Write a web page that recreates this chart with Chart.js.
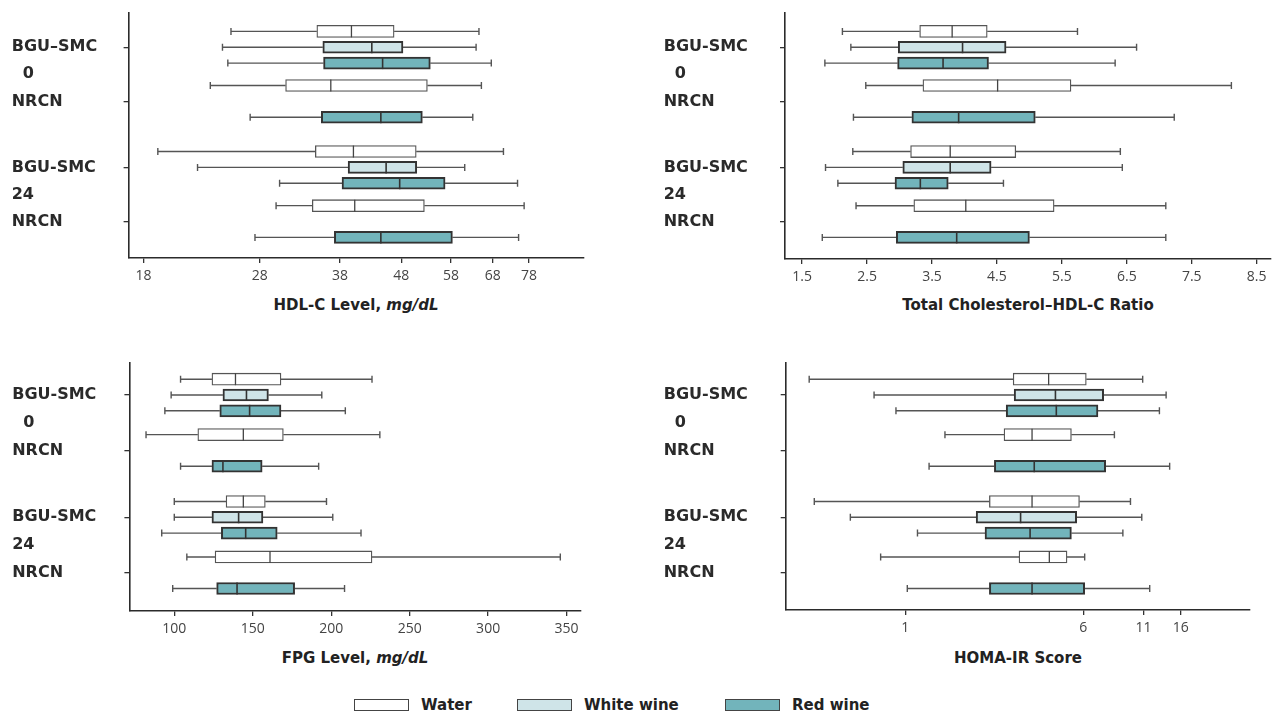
<!DOCTYPE html>
<html lang="en">
<head>
<meta charset="utf-8">
<title>Box plots</title>
<script src="https://cdn.jsdelivr.net/npm/chart.js@4.4.1/dist/chart.umd.min.js"></script>
<style>
  body { margin: 0; background: #fff; }
  #pagina { position: relative; width: 1280px; height: 717px; overflow: hidden; background: #fff; }
  canvas { position: absolute; }
  .titulo {
    position: absolute;
    transform: translateX(-50%);
    white-space: nowrap;
    font: bold 15px 'DejaVu Sans', sans-serif;
    line-height: 20px;
    color: #222;
  }
  .item-legenda {
    position: absolute;
    top: 698px;
    height: 14px;
    display: flex;
    align-items: center;
    font: bold 15px 'DejaVu Sans', sans-serif;
    color: #222;
    white-space: nowrap;
  }
  .caixa {
    width: 55px;
    height: 12px;
    box-sizing: border-box;
    border: 1.5px solid #444;
    margin-right: 12px;
  }
</style>
</head>
<body>
<div id="pagina">
  <canvas id="grafico-hdl" width="640" height="290" style="left:0;top:0"></canvas>
  <canvas id="grafico-razao" width="640" height="290" style="left:640px;top:0"></canvas>
  <canvas id="grafico-glicose" width="640" height="290" style="left:0;top:350px"></canvas>
  <canvas id="grafico-homa" width="640" height="290" style="left:640px;top:350px"></canvas>

  <div class="titulo" style="left:356px;top:295px">HDL-C Level, <i>mg/dL</i></div>
  <div class="titulo" style="left:1028px;top:295px">Total Cholesterol–HDL-C Ratio</div>
  <div class="titulo" style="left:355px;top:648px">FPG Level, <i>mg/dL</i></div>
  <div class="titulo" style="left:1018px;top:648px">HOMA-IR Score</div>

  <div class="item-legenda" style="left:354px"><span class="caixa" style="background:#ffffff"></span>Water</div>
  <div class="item-legenda" style="left:517px"><span class="caixa" style="background:#cfe4e8"></span>White wine</div>
  <div class="item-legenda" style="left:725px"><span class="caixa" style="background:#72b4bb"></span>Red wine</div>
</div>

<script>
// grupos: BGU-SMC 0, NRCN 0, BGU-SMC 24, NRCN 24
const tempos = ['0', '24'];
const rotulosHdl = ['BGU–SMC', 'NRCN', 'BGU-SMC', 'NRCN'];
const rotulosPadrao = ['BGU-SMC', 'NRCN', 'BGU-SMC', 'NRCN'];
const tratamentos = ['Water', 'White wine', 'Red wine'];

// cada caixa: [min, Q1, mediana, Q3, max]; null = grupo sem esse tratamento
const hdlAgua = [[25.1, 34.8, 39.7, 46.7, 64.5], [23.2, 30.9, 36.7, 53.0, 65.1], [19.0, 34.6, 40.0, 50.8, 70.8], [29.8, 34.2, 40.2, 52.4, 76.6]];
const hdlBranco = [[24.3, 35.6, 42.9, 48.3, 63.8], null, [22.1, 39.2, 45.3, 50.9, 61.1], null];
const hdlTinto = [[24.8, 35.7, 44.7, 53.6, 67.6], [27.0, 35.4, 44.4, 52.0, 63.0], [30.2, 38.3, 47.7, 56.7, 74.7], [27.5, 37.2, 44.4, 58.3, 75.0]];

const razaoAgua = [[2.12, 3.31, 3.81, 4.35, 5.74], [2.48, 3.36, 4.51, 5.64, 8.11], [2.28, 3.17, 3.78, 4.79, 6.4], [2.33, 3.22, 4.02, 5.38, 7.1]];
const razaoBranco = [[2.25, 2.98, 3.97, 4.64, 6.65], null, [1.86, 3.05, 3.78, 4.41, 6.43], null];
const razaoTinto = [[1.85, 2.97, 3.67, 4.37, 6.32], [2.29, 3.19, 3.91, 5.09, 7.23], [2.05, 2.93, 3.32, 3.75, 4.6], [1.81, 2.95, 3.88, 5.0, 7.1]];

const glicoseAgua = [[104, 124, 139, 168, 226], [82, 115, 144, 169.5, 231], [100, 133, 144, 158, 197], [108, 126, 161, 226, 346]];
const glicoseBranco = [[98, 131, 146, 160, 194], null, [100, 124, 141, 156.5, 201], null];
const glicoseTinto = [[94, 129, 148, 168, 209], [104, 124, 131, 156, 192], [92, 130, 145.5, 165.6, 219], [99, 127, 140, 176.7, 208.5]];

const homaAgua = [[0.38, 2.96, 4.23, 6.18, 10.9], [1.49, 2.7, 3.58, 5.32, 8.2], [0.4, 2.33, 3.58, 5.77, 9.64], [0.78, 3.14, 4.26, 5.09, 6.08]];
const homaBranco = [[0.73, 2.99, 4.53, 7.36, 13.8], null, [0.575, 2.04, 3.19, 5.61, 10.8], null];
const homaTinto = [[0.91, 2.76, 4.57, 6.95, 12.9], [1.27, 2.45, 3.66, 7.51, 14.3], [1.13, 2.23, 3.51, 5.32, 8.93], [1.02, 2.33, 3.58, 6.08, 11.7]];

const ticksHdl = [18, 28, 38, 48, 58, 68, 78];
const ticksRazao = [1.5, 2.5, 3.5, 4.5, 5.5, 6.5, 7.5, 8.5];
const ticksGlicose = [100, 150, 200, 250, 300, 350];
const ticksHoma = [1, 6, 11, 16];

const coresPreenchimento = ['#ffffff', '#cfe4e8', '#72b4bb'];
const coresBorda = ['#555555', '#333333', '#333333'];
const espessurasBorda = [1.3, 2, 2];

const pluginCaixas = {
  id: 'caixas',
  beforeDatasetsDraw(chart) {
    const { ctx, scales: { x, y } } = chart;
    ctx.save();
    ctx.strokeStyle = '#555';
    ctx.lineWidth = 1.4;
    chart.data.datasets.forEach((ds) => {
      ds.caixas.forEach((caixa, i) => {
        const py = y.getPixelForValue(ds.data[i].y);
        const [xMin, xQ1, , xQ3, xMax] = caixa.map((v) => x.getPixelForValue(v));
        ctx.beginPath();
        ctx.moveTo(xMin, py);
        ctx.lineTo(xQ1, py);
        ctx.moveTo(xQ3, py);
        ctx.lineTo(xMax, py);
        ctx.moveTo(xMin, py - 3.5);
        ctx.lineTo(xMin, py + 3.5);
        ctx.moveTo(xMax, py - 3.5);
        ctx.lineTo(xMax, py + 3.5);
        ctx.stroke();
      });
    });
    ctx.restore();
  },
  afterDatasetsDraw(chart) {
    const { ctx, scales: { x, y } } = chart;
    ctx.save();
    chart.data.datasets.forEach((ds, k) => {
      ctx.strokeStyle = k === 0 ? '#444' : '#333';
      ctx.lineWidth = k === 0 ? 1.3 : 1.6;
      ds.caixas.forEach((caixa, i) => {
        const py = y.getPixelForValue(ds.data[i].y);
        const xMed = x.getPixelForValue(caixa[2]);
        ctx.beginPath();
        ctx.moveTo(xMed, py - 6);
        ctx.lineTo(xMed, py + 6);
        ctx.stroke();
      });
    });
    ctx.restore();
  },
};

function montarTicksY(rotulos, posicoes) {
  return [
    { value: posicoes[0], rotulo: rotulos[0], marca: true },
    { value: (posicoes[0] + posicoes[1]) / 2, rotulo: '  ' + tempos[0], marca: false },
    { value: posicoes[1], rotulo: rotulos[1], marca: true },
    { value: posicoes[2], rotulo: rotulos[2], marca: true },
    { value: (posicoes[2] + posicoes[3]) / 2, rotulo: tempos[1], marca: false },
    { value: posicoes[3], rotulo: rotulos[3], marca: true },
  ];
}

function criarPainel(cfg) {
  const posicoes = [0, 1, cfg.salto, cfg.salto + 1];
  const deslocamentos = [-cfg.faixa, 0, cfg.faixa];

  const datasets = tratamentos.map((nome, k) => ({
    label: nome,
    data: cfg.series[k]
      .map((caixa, i) => caixa && { x: [caixa[1], caixa[3]], y: posicoes[i] + deslocamentos[k] })
      .filter(Boolean),
    caixas: cfg.series[k].filter(Boolean),
    backgroundColor: coresPreenchimento[k],
    borderColor: coresBorda[k],
    borderWidth: espessurasBorda[k],
    borderSkipped: false,
    barThickness: 12,
    grouped: false,
  }));

  return new Chart(document.querySelector(cfg.id), {
    type: 'bar',
    data: { datasets },
    plugins: [pluginCaixas],
    options: {
      indexAxis: 'y',
      responsive: false,
      animation: false,
      events: [],
      layout: {
        autoPadding: false,
        padding: cfg.padding,
      },
      plugins: {
        legend: { display: false },
        tooltip: { enabled: false },
      },
      scales: {
        x: {
          type: cfg.tipo,
          min: cfg.min,
          max: cfg.max,
          offset: false,
          afterBuildTicks: (scale) => {
            scale.ticks = cfg.ticks.map((v) => ({ value: v }));
          },
          afterFit: (scale) => {
            scale.height = cfg.alturaEixoX;
          },
          ticks: {
            autoSkip: false,
            maxRotation: 0,
            padding: 5,
            color: '#444',
            font: { family: 'Open Sans', size: 14 },
            callback: (value) => String(value),
          },
          grid: {
            offset: false,
            drawOnChartArea: false,
            tickLength: 5,
            color: '#333',
            lineWidth: 1.3,
          },
          border: { color: '#2b2b2b', width: 1.6 },
        },
        y: {
          type: 'linear',
          reverse: true,
          offset: false,
          min: cfg.minY,
          max: cfg.maxY,
          afterBuildTicks: (scale) => {
            scale.ticks = montarTicksY(cfg.rotulos, posicoes);
          },
          afterFit: (scale) => {
            scale.width = cfg.larguraEixoY;
          },
          ticks: {
            autoSkip: false,
            crossAlign: 'far',
            color: '#2a2a2a',
            font: { family: 'DejaVu Sans', size: 16, weight: 'bold' },
            callback: (value, index, ticks) => ticks[index].rotulo,
          },
          grid: {
            offset: false,
            drawOnChartArea: false,
            tickLength: 5,
            lineWidth: 1.3,
            color: (c) => (c.tick && c.tick.marca ? '#333' : 'rgba(0,0,0,0)'),
          },
          border: { color: '#2b2b2b', width: 1.6 },
        },
      },
    },
  });
}

criarPainel({
  id: '#grafico-hdl',
  tipo: 'logarithmic',
  min: 17,
  max: 96.2,
  ticks: ticksHdl,
  rotulos: rotulosHdl,
  series: [hdlAgua, hdlBranco, hdlTinto],
  padding: { left: 11.7, right: 56, top: 10, bottom: 0 },
  larguraEixoY: 116.9,
  alturaEixoX: 32,
  minY: -0.64,
  maxY: 3.894,
  salto: 2.22,
  faixa: 0.293,
});

criarPainel({
  id: '#grafico-razao',
  tipo: 'linear',
  min: 1.236,
  max: 8.72,
  ticks: ticksRazao,
  rotulos: rotulosPadrao,
  series: [razaoAgua, razaoBranco, razaoTinto],
  padding: { left: 23.7, right: 9, top: 10, bottom: 0 },
  larguraEixoY: 121.3,
  alturaEixoX: 31,
  minY: -0.64,
  maxY: 3.912,
  salto: 2.22,
  faixa: 0.293,
});

criarPainel({
  id: '#grafico-glicose',
  tipo: 'linear',
  min: 71.4,
  max: 358.8,
  ticks: ticksGlicose,
  rotulos: rotulosPadrao,
  series: [glicoseAgua, glicoseBranco, glicoseTinto],
  padding: { left: 12.2, right: 59.6, top: 13, bottom: 0 },
  larguraEixoY: 117.2,
  alturaEixoX: 29,
  minY: -0.577,
  maxY: 3.895,
  salto: 2.205,
  faixa: 0.285,
});

criarPainel({
  id: '#grafico-homa',
  tipo: 'logarithmic',
  min: 0.324,
  max: 32.1,
  ticks: ticksHoma,
  rotulos: rotulosPadrao,
  series: [homaAgua, homaBranco, homaTinto],
  padding: { left: 23.7, right: 30, top: 13, bottom: 0 },
  larguraEixoY: 122,
  alturaEixoX: 30,
  minY: -0.577,
  maxY: 3.877,
  salto: 2.205,
  faixa: 0.285,
});
</script>
</body>
</html>
